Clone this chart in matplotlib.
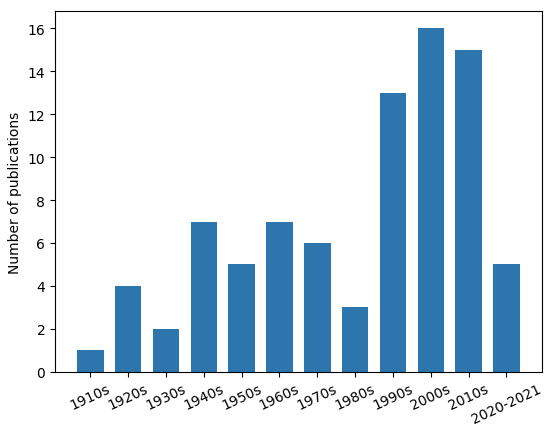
import matplotlib.pyplot as plt

decades = ["1910s", "1920s", "1930s", "1940s", "1950s", "1960s",
           "1970s", "1980s", "1990s", "2000s", "2010s", "2020-2021"]
counts = [1, 4, 2, 7, 5, 7, 6, 3, 13, 16, 15, 5]

fig, ax = plt.subplots(figsize=(5.5, 4.31), dpi=100)
x = list(range(len(decades)))
ax.bar(x, counts, width=0.7, color="#2c75ad")
ax.set_xticks(x)
ax.set_xticklabels(decades, rotation=25)
ax.set_ylabel("Number of publications")
ax.set_yticks(range(0, 17, 2))
ax.set_ylim(0, 16.8)

fig.subplots_adjust(left=0.1, right=0.985, top=0.972, bottom=0.135)
fig.savefig("out.png")
